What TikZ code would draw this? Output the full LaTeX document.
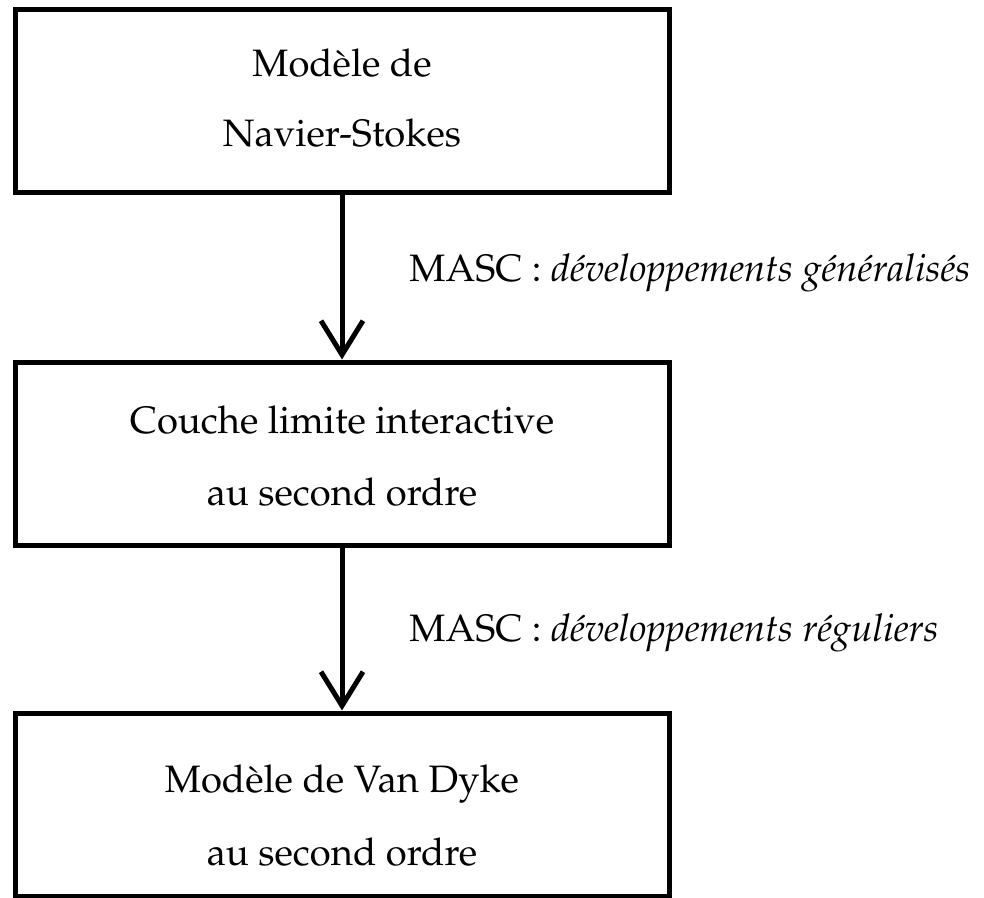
\documentclass[tikz,border=0pt]{standalone}
\IfFileExists{mathpazo.sty}{%
  \usepackage[T1]{fontenc}\usepackage{mathpazo}}{%
  \usepackage{fontspec}\setmainfont{Liberation Serif}}
\usetikzlibrary{arrows.meta}
\begin{document}
\begin{tikzpicture}[x=0.5pt,y=-0.5pt,
  box/.style={draw, line width=2.5pt, minimum width=327pt, minimum height=91.5pt, inner sep=0pt},
  txt/.style={anchor=base, inner sep=0pt, font=\fontsize{19.1}{24}\selectfont},
  lbl/.style={anchor=base west, inner sep=0pt, font=\fontsize{19.1}{24}\selectfont},
  flow/.style={line width=2.5pt, -{Straight Barb[length=17pt, width=21pt, line width=2.5pt]}}]
\useasboundingbox (0,0) rectangle (984,898);

% the three models
\node[box] (b1) at (342,101.5) {};
\node[box] (b2) at (342,453.5) {};
\node[box] (b3) at (342,804.5) {};

\node[txt] (t1a) at (342,77)  {Mod\`ele de};
\node[txt] (t1b) at (342,147) {Navier-Stokes};
\node[txt] (t2a) at (342,433) {Couche limite interactive};
\node[txt] (t2b) at (342,505) {au second ordre};
\node[txt] (t3a) at (342,792) {Mod\`ele de Van Dyke};
\node[txt] (t3b) at (342,865) {au second ordre};

% derivation steps
\draw[flow] (b1.south) -- (b2.north);
\draw[flow] (b2.south) -- (b3.north);

\node[lbl] (l1) at (409,282) {MASC : \textit{d\'eveloppements g\'en\'eralis\'es}};
\node[lbl] (l2) at (409,641) {MASC : \textit{d\'eveloppements r\'eguliers}};
\end{tikzpicture}
\end{document}
